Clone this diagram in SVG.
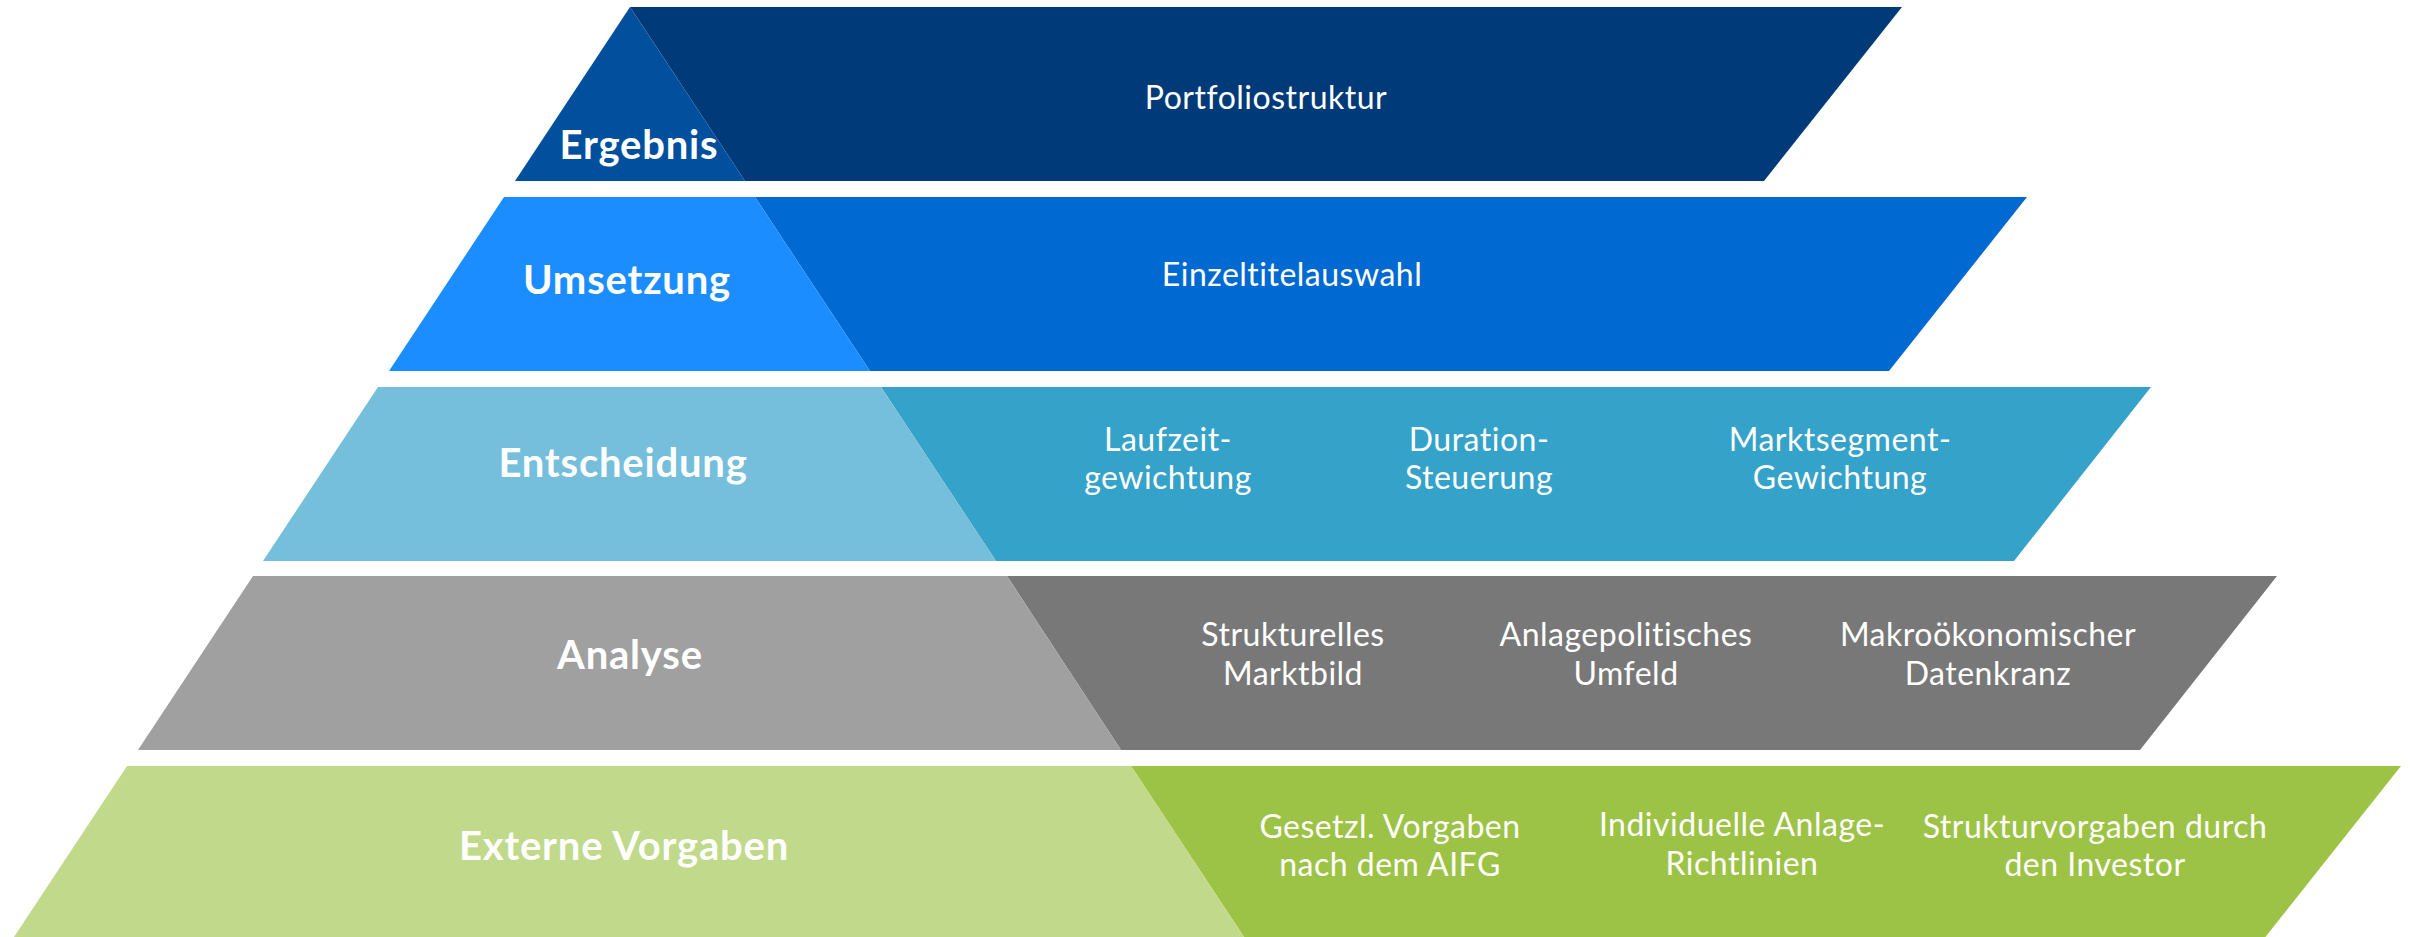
<svg xmlns="http://www.w3.org/2000/svg" width="2410" height="937" viewBox="0 0 2410 937">
<style>
.lbl{font-family:Lato,"Noto Sans",sans-serif;font-weight:700;font-size:40px;letter-spacing:0.8px;fill:#fff;text-anchor:middle;font-variant-ligatures:none}
.txt{font-family:Lato,"Noto Sans",sans-serif;font-weight:400;font-size:32px;letter-spacing:0.5px;fill:#fff;text-anchor:middle;font-variant-ligatures:none}
</style>
<rect width="2410" height="937" fill="#fff"/>
<g id="band-ergebnis">
<polygon points="630,7 1902,7 1764,181 745,181" fill="#003A78"/>
<polygon points="515,181 630,7 745,181" fill="#02509D"/>
<text class="lbl" x="639" y="159">Ergebnis</text>
<text class="txt" x="1266" y="109">Portfoliostruktur</text>
</g>
<g id="band-umsetzung">
<polygon points="755,197 2027,197 1889,371 870,371" fill="#0069D2"/>
<polygon points="389,371 504,197 755,197 870,371" fill="#1C8DFF"/>
<text class="lbl" x="627" y="294">Umsetzung</text>
<text class="txt" x="1292" y="286">Einzeltitelauswahl</text>
</g>
<g id="band-entscheidung">
<polygon points="881,387 2151,387 2014,561 996,561" fill="#35A2CA"/>
<polygon points="263,561 378,387 881,387 996,561" fill="#75BEDC"/>
<text class="lbl" x="623" y="477">Entscheidung</text>
<text class="txt" x="1168" y="451">Laufzeit-</text>
<text class="txt" x="1168" y="489">gewichtung</text>
<text class="txt" x="1479" y="451">Duration-</text>
<text class="txt" x="1479" y="489">Steuerung</text>
<text class="txt" x="1840" y="451">Marktsegment-</text>
<text class="txt" x="1840" y="489">Gewichtung</text>
</g>
<g id="band-analyse">
<polygon points="1007,576 2277,576 2140,750 1121,750" fill="#787878"/>
<polygon points="138,750 253,576 1007,576 1121,750" fill="#A0A0A0"/>
<text class="lbl" x="630" y="669">Analyse</text>
<text class="txt" x="1293" y="646">Strukturelles</text>
<text class="txt" x="1293" y="685">Marktbild</text>
<text class="txt" x="1626" y="646">Anlagepolitisches</text>
<text class="txt" x="1626" y="685">Umfeld</text>
<text class="txt" x="1988" y="646">Makroökonomischer</text>
<text class="txt" x="1988" y="685">Datenkranz</text>
</g>
<g id="band-externe-vorgaben">
<polygon points="1131,766 2401,766 2263,940 1246,940" fill="#9DC346"/>
<polygon points="12,940 127,766 1131,766 1246,940" fill="#C0D98A"/>
<text class="lbl" x="624" y="860">Externe Vorgaben</text>
<text class="txt" x="1390" y="838">Gesetzl. Vorgaben</text>
<text class="txt" x="1390" y="876">nach dem AIFG</text>
<text class="txt" x="1742" y="836">Individuelle Anlage-</text>
<text class="txt" x="1742" y="875">Richtlinien</text>
<text class="txt" x="2095" y="838">Strukturvorgaben durch</text>
<text class="txt" x="2095" y="876">den Investor</text>
</g>
<g id="connectors"/>
</svg>
